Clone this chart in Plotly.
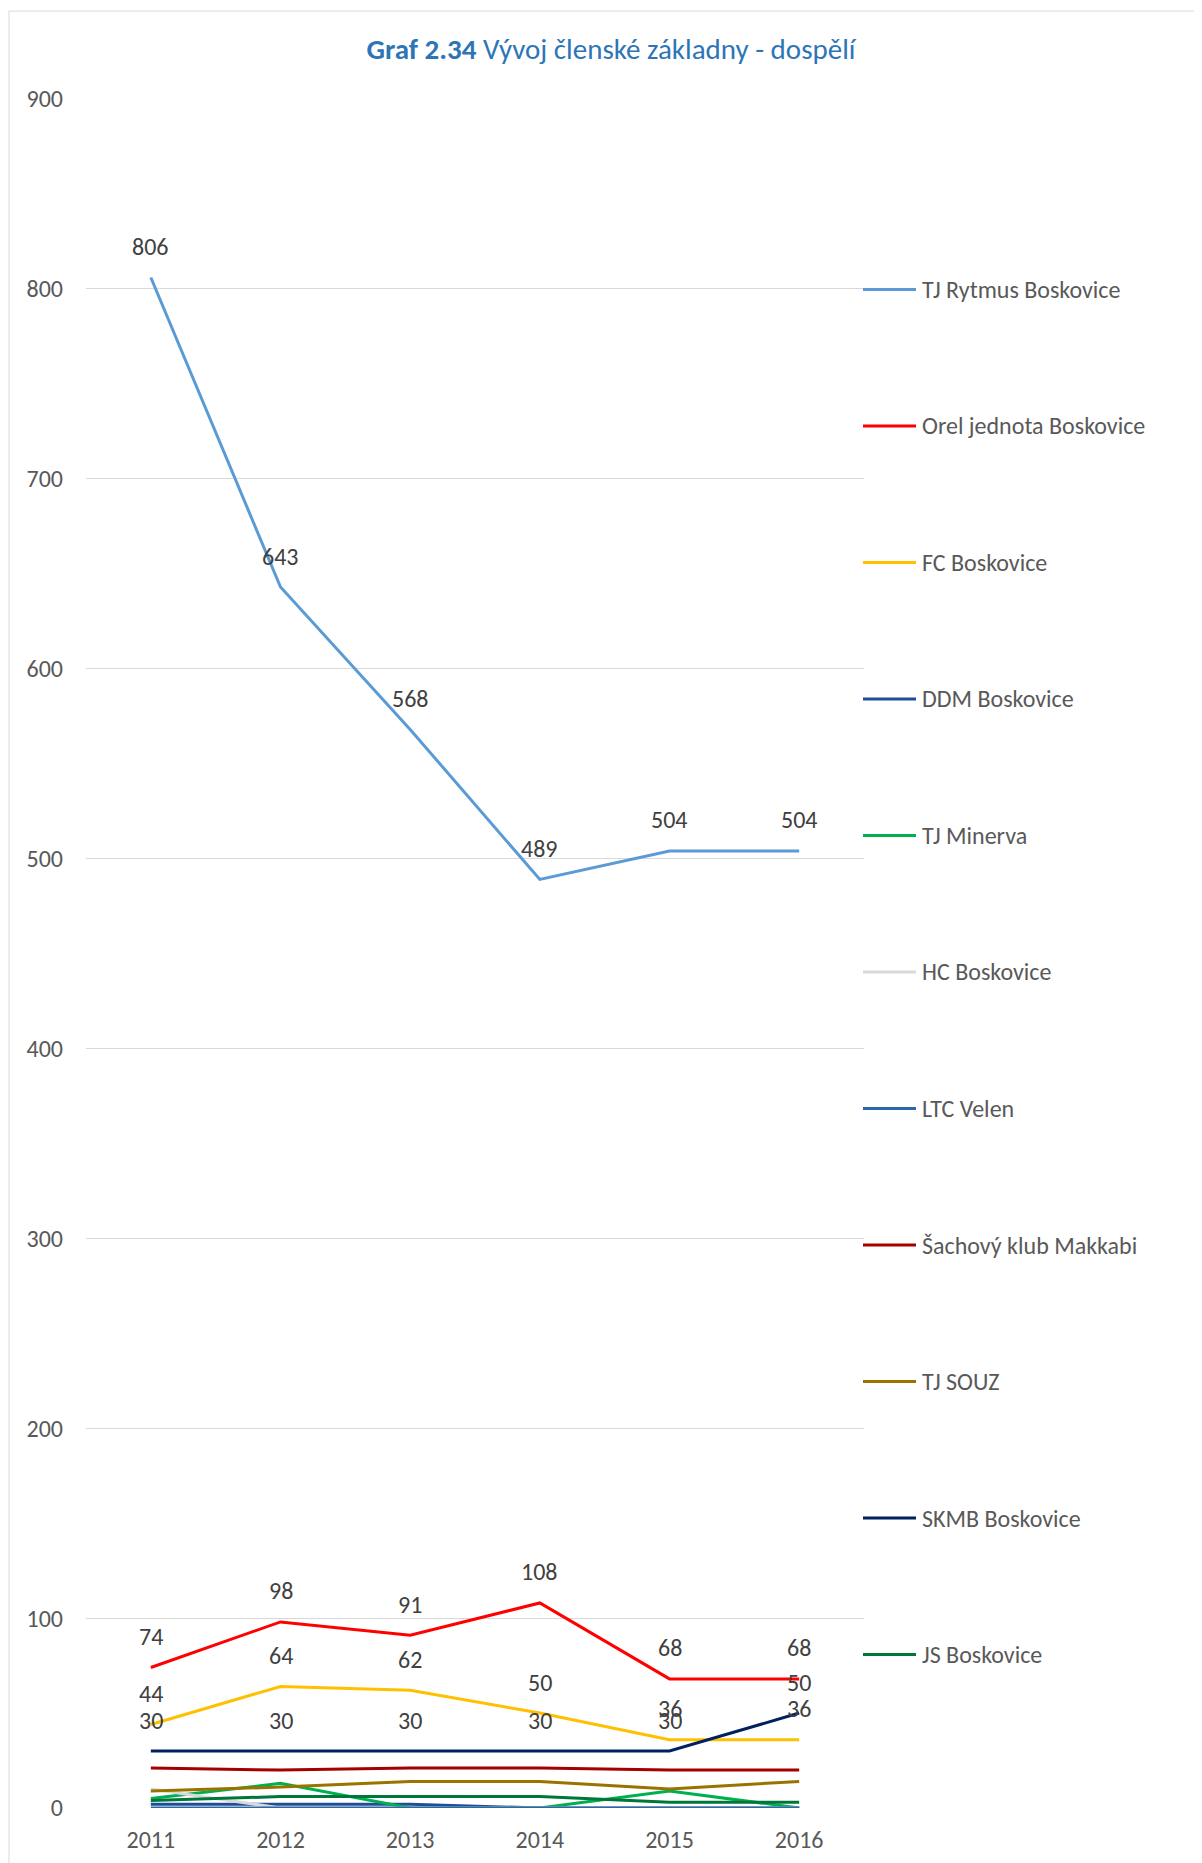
import plotly.graph_objects as go

years = ["2011", "2012", "2013", "2014", "2015", "2016"]

series_names = [
    "TJ Rytmus Boskovice", "Orel jednota Boskovice", "FC Boskovice", "DDM Boskovice",
    "TJ Minerva", "HC Boskovice", "LTC Velen", "Šachový klub Makkabi",
    "TJ SOUZ", "SKMB Boskovice", "JS Boskovice",
]

tj_rytmus = [806, 643, 568, 489, 504, 504]
orel = [74, 98, 91, 108, 68, 68]
fc = [44, 64, 62, 50, 36, 36]
ddm = [2, 2, 2, 0, 0, 0]
tj_minerva = [5, 13, 0, 0, 9, 0]
hc = [10, 0, 0, 0, 0, 0]
ltc_velen = [0, 0, 0, 0, 0, 0]
sachovy = [21, 20, 21, 21, 20, 20]
tj_souz = [9, 11, 14, 14, 10, 14]
skmb = [30, 30, 30, 30, 30, 50]
js = [4, 6, 6, 6, 3, 3]

series_values = [tj_rytmus, orel, fc, ddm, tj_minerva, hc, ltc_velen, sachovy, tj_souz, skmb, js]
series_colors = ["#5B9BD5", "#FF0000", "#FFC000", "#1F4E96", "#00B050", "#D9D9D9",
                 "#2E67A5", "#A50000", "#997300", "#002060", "#00773A"]
labeled = {"TJ Rytmus Boskovice", "Orel jednota Boskovice", "FC Boskovice", "SKMB Boskovice"}

FONT = "Calibri, Carlito, Lato, sans-serif"

# the page body has an 8px margin; work in screen pixels and convert
OFF = 8
W, H = 1202 - OFF, 1863 - OFF
L, R, T, B = 86 - OFF, 864 - OFF, 98.5 - OFF, 1808.5 - OFF


def px_x(p):
    return (p - OFF - L) / (R - L)


def px_y(p):
    return (B - (p - OFF)) / (B - T)


fig = go.Figure()

for name, vals, col in zip(series_names, series_values, series_colors):
    fig.add_trace(go.Scatter(
        x=years, y=vals, name=name, mode="lines",
        line=dict(color=col, width=3),
        showlegend=False, hoverinfo="x+y+name",
    ))

annotations = []
for name, vals in zip(series_names, series_values):
    if name in labeled:
        for i, yv in enumerate(vals):
            annotations.append(dict(
                x=i, y=yv, xref="x", yref="y", text=str(yv), showarrow=False,
                yshift=31, xanchor="center", yanchor="middle",
                font=dict(family=FONT, size=24, color="#404040"),
            ))

# legend (manual, to match spacing and symbol length)
shapes = []
leg_y0, leg_step = 289, 136.6
for i, (name, col) in enumerate(zip(series_names, series_colors)):
    yp = leg_y0 + i * leg_step
    shapes.append(dict(type="line", xref="paper", yref="paper",
                       x0=px_x(863), x1=px_x(916), y0=px_y(yp), y1=px_y(yp),
                       line=dict(color=col, width=3)))
    annotations.append(dict(x=px_x(920), y=px_y(yp), xref="paper", yref="paper",
                            text=name, showarrow=False, xanchor="left", yanchor="middle",
                            font=dict(family=FONT, size=24, color="#595959")))

# chart border
shapes.append(dict(type="rect", xref="paper", yref="paper",
                   x0=px_x(9), x1=px_x(1260), y0=px_y(1920), y1=px_y(10.5),
                   line=dict(color="#D9D9D9", width=1), fillcolor="rgba(0,0,0,0)", layer="below"))

fig.update_layout(
    width=W, height=H,
    margin=dict(l=L, r=W - R, t=T, b=H - B, autoexpand=False),
    paper_bgcolor="white", plot_bgcolor="white",
    title=dict(text="<b>Graf 2.34</b> Vývoj členské základny - dospělí",
               x=(611 - OFF) / W, xanchor="center", xref="container",
               y=1 - (49 - OFF) / H, yanchor="middle", yref="container",
               font=dict(family=FONT, size=29, color="#2E75B6")),
    xaxis=dict(type="category", range=[-0.5, 5.5], showgrid=False, showline=False,
               zeroline=False, ticks="", ticklabelstandoff=15,
               tickfont=dict(family=FONT, size=24, color="#595959")),
    yaxis=dict(range=[0, 900], dtick=100, showgrid=True, gridcolor="#D9D9D9", gridwidth=1,
               zeroline=False, showline=False, ticks="", ticklabelstandoff=22,
               tickfont=dict(family=FONT, size=24, color="#595959")),
    annotations=annotations, shapes=shapes, showlegend=False,
)

fig.write_html("out.html")
